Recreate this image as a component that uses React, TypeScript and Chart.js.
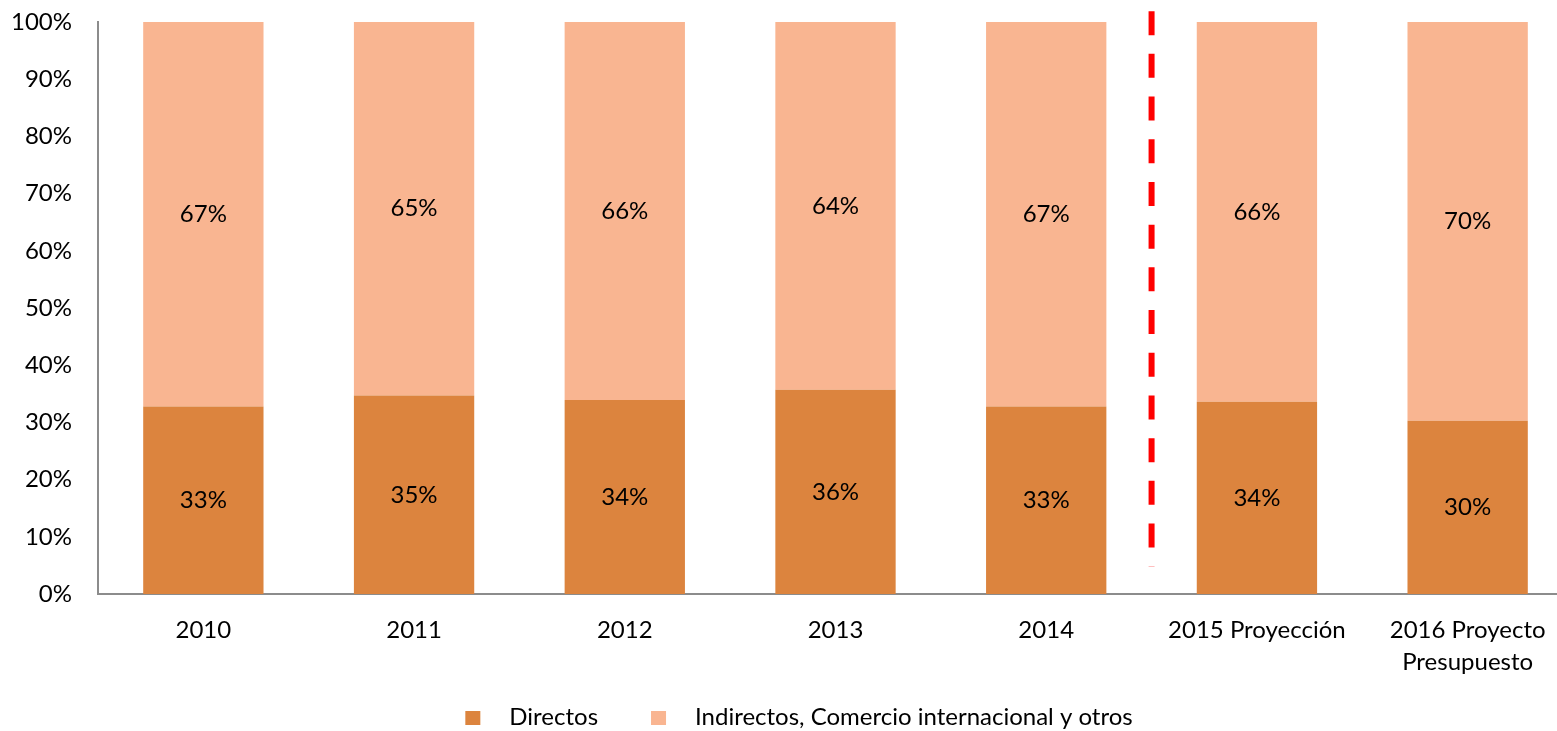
import React, { useEffect, useRef } from "react";
import { Chart, registerables } from "chart.js";

Chart.register(...registerables);

// ---- data ----
const categories: (string | string[])[] = [
  "2010",
  "2011",
  "2012",
  "2013",
  "2014",
  "2015 Proyección",
  ["2016 Proyecto", "Presupuesto"],
];
const directos = [32.8, 34.7, 33.9, 35.7, 32.8, 33.6, 30.3];
const indirectos = [67.2, 65.3, 66.1, 64.3, 67.2, 66.4, 69.7];
const seriesNames = ["Directos", "Indirectos, Comercio internacional y otros"];
const yMax = 100;
const yStep = 10;
const dividerAfterIndex = 4; // dashed line between 2014 and 2015
const dividerRange = [4.8, 101.9]; // value range covered by the dashed line

// ---- styles ----
const FONT = "Lato";
const FONT_SIZE = 24;
const TEXT_COLOR = "#000000";
const AXIS_COLOR = "#8c8c8c";
const COLORS = ["#DC843E", "#F9B591"];

const segmentLabels = {
  id: "segmentLabels",
  afterDatasetsDraw(chart: any) {
    const ctx = chart.ctx;
    ctx.save();
    ctx.font = `${FONT_SIZE}px ${FONT}`;
    ctx.fillStyle = TEXT_COLOR;
    ctx.textAlign = "center";
    ctx.textBaseline = "middle";
    chart.data.datasets.forEach((ds: any, di: number) => {
      const meta = chart.getDatasetMeta(di);
      meta.data.forEach((el: any, i: number) => {
        const p = el.getProps(["x", "y", "base"], true);
        ctx.fillText(`${Math.round(ds.data[i])}%`, p.x, (p.y + p.base) / 2);
      });
    });
    ctx.restore();
  },
};

const divider = {
  id: "divider",
  afterDraw(chart: any) {
    const ctx = chart.ctx;
    const xs = chart.scales.x;
    const ys = chart.scales.y;
    const x =
      (xs.getPixelForValue(dividerAfterIndex) +
        xs.getPixelForValue(dividerAfterIndex + 1)) /
      2;
    const yTop = ys.getPixelForValue(dividerRange[1]);
    const yBot = ys.getPixelForValue(dividerRange[0]);
    ctx.save();
    ctx.strokeStyle = "#FF0000";
    ctx.lineWidth = 6;
    ctx.setLineDash([24, 18.7]);
    ctx.beginPath();
    ctx.moveTo(x, yTop);
    ctx.lineTo(x, yBot);
    ctx.stroke();
    ctx.restore();
  },
};

const LEGEND_BOX_W = 15;
const LEGEND_BOX_H = 14;
const LEGEND_TEXT_GAP = 29;
const LEGEND_ITEM_GAP = 53;

const bottomLegend = {
  id: "bottomLegend",
  afterDraw(chart: any) {
    const ctx = chart.ctx;
    ctx.save();
    ctx.font = `${FONT_SIZE}px ${FONT}`;
    ctx.textBaseline = "middle";
    ctx.textAlign = "left";
    const items = chart.data.datasets.map((ds: any) => ({
      text: ds.label,
      color: ds.backgroundColor,
      w: ctx.measureText(ds.label).width,
    }));
    const total =
      items.reduce(
        (s: number, it: any) => s + LEGEND_BOX_W + LEGEND_TEXT_GAP + it.w,
        0
      ) +
      LEGEND_ITEM_GAP * (items.length - 1);
    let x = chart.width / 2 - 1 - total / 2;
    const cy = chart.height - 13;
    items.forEach((it: any) => {
      ctx.fillStyle = it.color;
      ctx.fillRect(x, cy - LEGEND_BOX_H / 2, LEGEND_BOX_W, LEGEND_BOX_H);
      x += LEGEND_BOX_W + LEGEND_TEXT_GAP;
      ctx.fillStyle = TEXT_COLOR;
      ctx.fillText(it.text, x, cy - 1);
      x += it.w + LEGEND_ITEM_GAP;
    });
    ctx.restore();
  },
};

export default function App() {
  const ref = useRef<HTMLCanvasElement>(null);

  useEffect(() => {
    if (!ref.current) return;
    Chart.defaults.font.family = FONT;
    const chart = new Chart(ref.current, {
      type: "bar",
      data: {
        labels: categories as any,
        datasets: [
          {
            label: seriesNames[0],
            data: directos,
            backgroundColor: COLORS[0],
            categoryPercentage: 1,
            barPercentage: 0.571,
          },
          {
            label: seriesNames[1],
            data: indirectos,
            backgroundColor: COLORS[1],
            categoryPercentage: 1,
            barPercentage: 0.571,
          },
        ],
      },
      options: {
        responsive: false,
        animation: false,
        layout: { padding: { top: 22, right: 27, bottom: 33, left: 0 } },
        plugins: {
          legend: { display: false },
          tooltip: { enabled: false },
        },
        scales: {
          x: {
            stacked: true,
            grid: { display: false, drawTicks: false },
            border: { display: true, color: AXIS_COLOR, width: 2 },
            ticks: {
              color: TEXT_COLOR,
              font: { size: FONT_SIZE, family: FONT, lineHeight: 1.333 },
              padding: 20,
              maxRotation: 0,
              autoSkip: false,
            },
          },
          y: {
            stacked: true,
            min: 0,
            max: yMax,
            grid: { display: false, drawTicks: false },
            border: { display: true, color: AXIS_COLOR, width: 2 },
            ticks: {
              stepSize: yStep,
              color: TEXT_COLOR,
              font: { size: FONT_SIZE, family: FONT },
              padding: 26,
              callback: (v: any) => `${v}%`,
            },
            afterFit: (s: any) => {
              s.width = 98;
              s.paddingTop = 0;
              s.paddingBottom = 0;
            },
          },
        },
      },
      plugins: [segmentLabels, divider, bottomLegend],
    });
    return () => chart.destroy();
  }, []);

  return (
    <div
      style={{
        position: "fixed",
        left: 0,
        top: 0,
        width: "100vw",
        height: "100vh",
        overflow: "hidden",
        background: "#ffffff",
      }}
    >
      <canvas
        ref={ref}
        width={1600}
        height={731}
        style={{ display: "block", width: 1600, height: 731 }}
      />
    </div>
  );
}
